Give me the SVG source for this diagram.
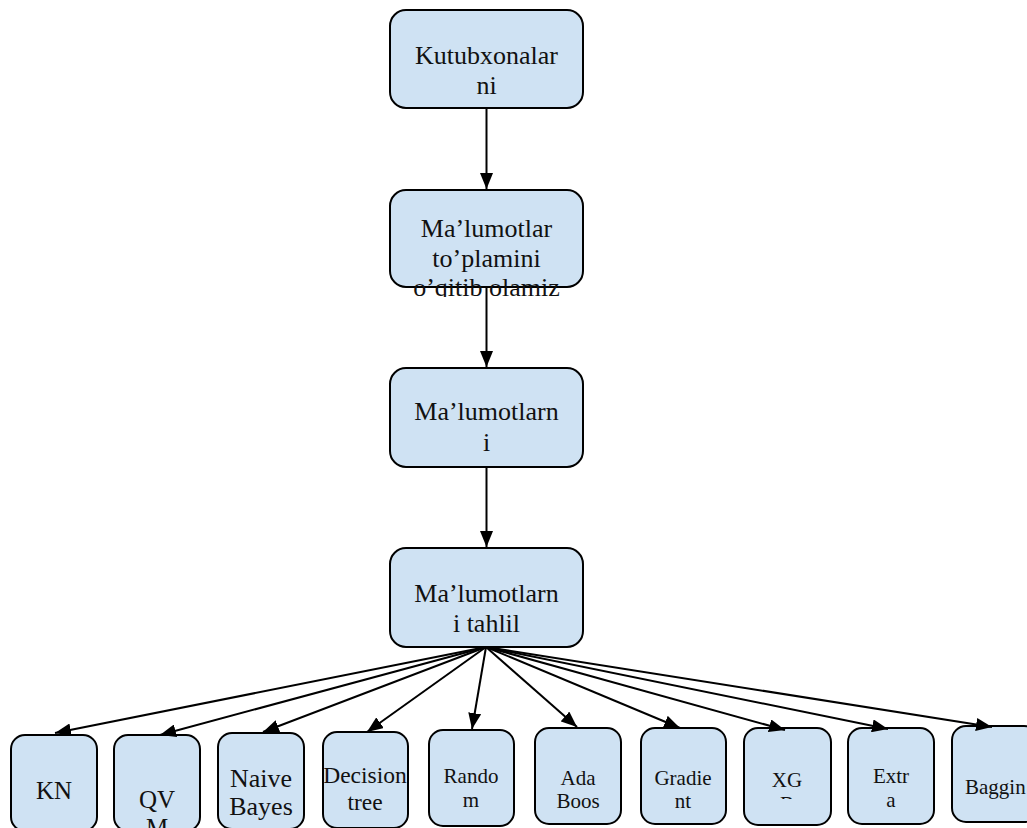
<svg xmlns="http://www.w3.org/2000/svg" width="1027" height="828" viewBox="0 0 1027 828">
<style>
.box{fill:#cfe2f3;stroke:#000;stroke-width:2}
.t{font-family:"Liberation Serif","Times New Roman",serif;fill:#111;text-anchor:middle}
.big{font-size:26px}
.sm{font-size:21px}
.c{stroke:#000;stroke-width:2;fill:none;marker-end:url(#ah)}
</style>
<defs>
<marker id="ah" viewBox="0 0 16 13" refX="16" refY="6.5" markerWidth="16" markerHeight="13" markerUnits="userSpaceOnUse" orient="auto">
<path d="M0,0 L16,6.5 L0,13 Z" fill="#000"/>
</marker>
<clipPath id="clip2"><rect x="0" y="0" width="1027" height="297"/></clipPath>
<clipPath id="clipxg"><rect x="0" y="0" width="1027" height="799"/></clipPath>
</defs>
<rect width="1027" height="828" fill="#fff"/>

<g id="n1"><rect class="box" x="390" y="10" width="193" height="98" rx="16"/>
<text class="t big" x="486.5" y="64">Kutubxonalar</text><text class="t big" x="486.5" y="94">ni</text></g>
<g id="n2"><rect class="box" x="390" y="190" width="193" height="97" rx="16"/>
<text class="t big" x="486.5" y="237">Ma’lumotlar</text><text class="t big" x="486.5" y="267">to’plamini</text>
<text class="t big" x="486.5" y="296" clip-path="url(#clip2)">o’qitib olamiz</text></g>
<g id="n3"><rect class="box" x="390" y="368" width="193" height="99" rx="16"/>
<text class="t big" x="486.5" y="420">Ma’lumotlarn</text><text class="t big" x="486.5" y="451">i</text></g>
<g id="n4"><rect class="box" x="390" y="548" width="193" height="99" rx="16"/>
<text class="t big" x="486.5" y="602">Ma’lumotlarn</text><text class="t big" x="486.5" y="632">i tahlil</text></g>

<g id="b1"><rect class="box" x="11" y="735" width="86" height="96" rx="14"/><text class="t" style="font-size:25px" x="54" y="799">KN</text></g>
<g id="b2"><rect class="box" x="114" y="735" width="86" height="96" rx="14"/><text class="t" style="font-size:25px" x="157" y="808">QV</text><text class="t" style="font-size:25px" x="157" y="836">M</text></g>
<g id="b3"><rect class="box" x="218" y="733" width="86" height="96" rx="14"/><text class="t big" x="261" y="787">Naive</text><text class="t big" x="261" y="815">Bayes</text></g>
<g id="b4"><rect class="box" x="323" y="732" width="85" height="96" rx="14"/><text class="t" style="font-size:23.5px" x="365" y="783">Decision</text><text class="t" style="font-size:23.5px" x="365" y="810">tree</text></g>
<g id="b5"><rect class="box" x="429" y="730" width="85" height="96" rx="14"/><text class="t sm" x="471" y="783">Rando</text><text class="t sm" x="471" y="807">m</text></g>
<g id="b6"><rect class="box" x="535" y="728" width="86" height="96" rx="14"/><text class="t sm" x="578" y="785">Ada</text><text class="t sm" x="578" y="808">Boos</text></g>
<g id="b7"><rect class="box" x="641" y="728" width="85" height="96" rx="14"/><text class="t sm" x="683" y="785">Gradie</text><text class="t sm" x="683" y="808">nt</text></g>
<g id="b8"><rect class="box" x="744" y="728" width="87" height="97" rx="14"/><text class="t sm" x="787" y="787">XG</text><text class="t sm" x="787" y="811" clip-path="url(#clipxg)">B</text></g>
<g id="b9"><rect class="box" x="848" y="728" width="86" height="96" rx="14"/><text class="t sm" x="891" y="783">Extr</text><text class="t sm" x="891" y="807">a</text></g>
<g id="b10"><rect class="box" x="952" y="726" width="86" height="96" rx="14"/><text class="t sm" style="text-anchor:start" x="965" y="794">Baggin</text></g>

<g id="connectors">
<line class="c" x1="486.5" y1="108" x2="486.5" y2="189"/>
<line class="c" x1="486.5" y1="287" x2="486.5" y2="367"/>
<line class="c" x1="486.5" y1="467" x2="486.5" y2="547"/>
<line class="c" x1="486" y1="647" x2="55" y2="733"/>
<line class="c" x1="486" y1="647" x2="160" y2="735"/>
<line class="c" x1="486" y1="647" x2="263" y2="732"/>
<line class="c" x1="486" y1="647" x2="367" y2="732"/>
<line class="c" x1="486" y1="647" x2="472" y2="729"/>
<line class="c" x1="486" y1="647" x2="577" y2="727"/>
<line class="c" x1="486" y1="647" x2="680" y2="728"/>
<line class="c" x1="486" y1="647" x2="785" y2="730"/>
<line class="c" x1="486" y1="647" x2="888" y2="729"/>
<line class="c" x1="486" y1="647" x2="992" y2="727"/>
</g>
</svg>
